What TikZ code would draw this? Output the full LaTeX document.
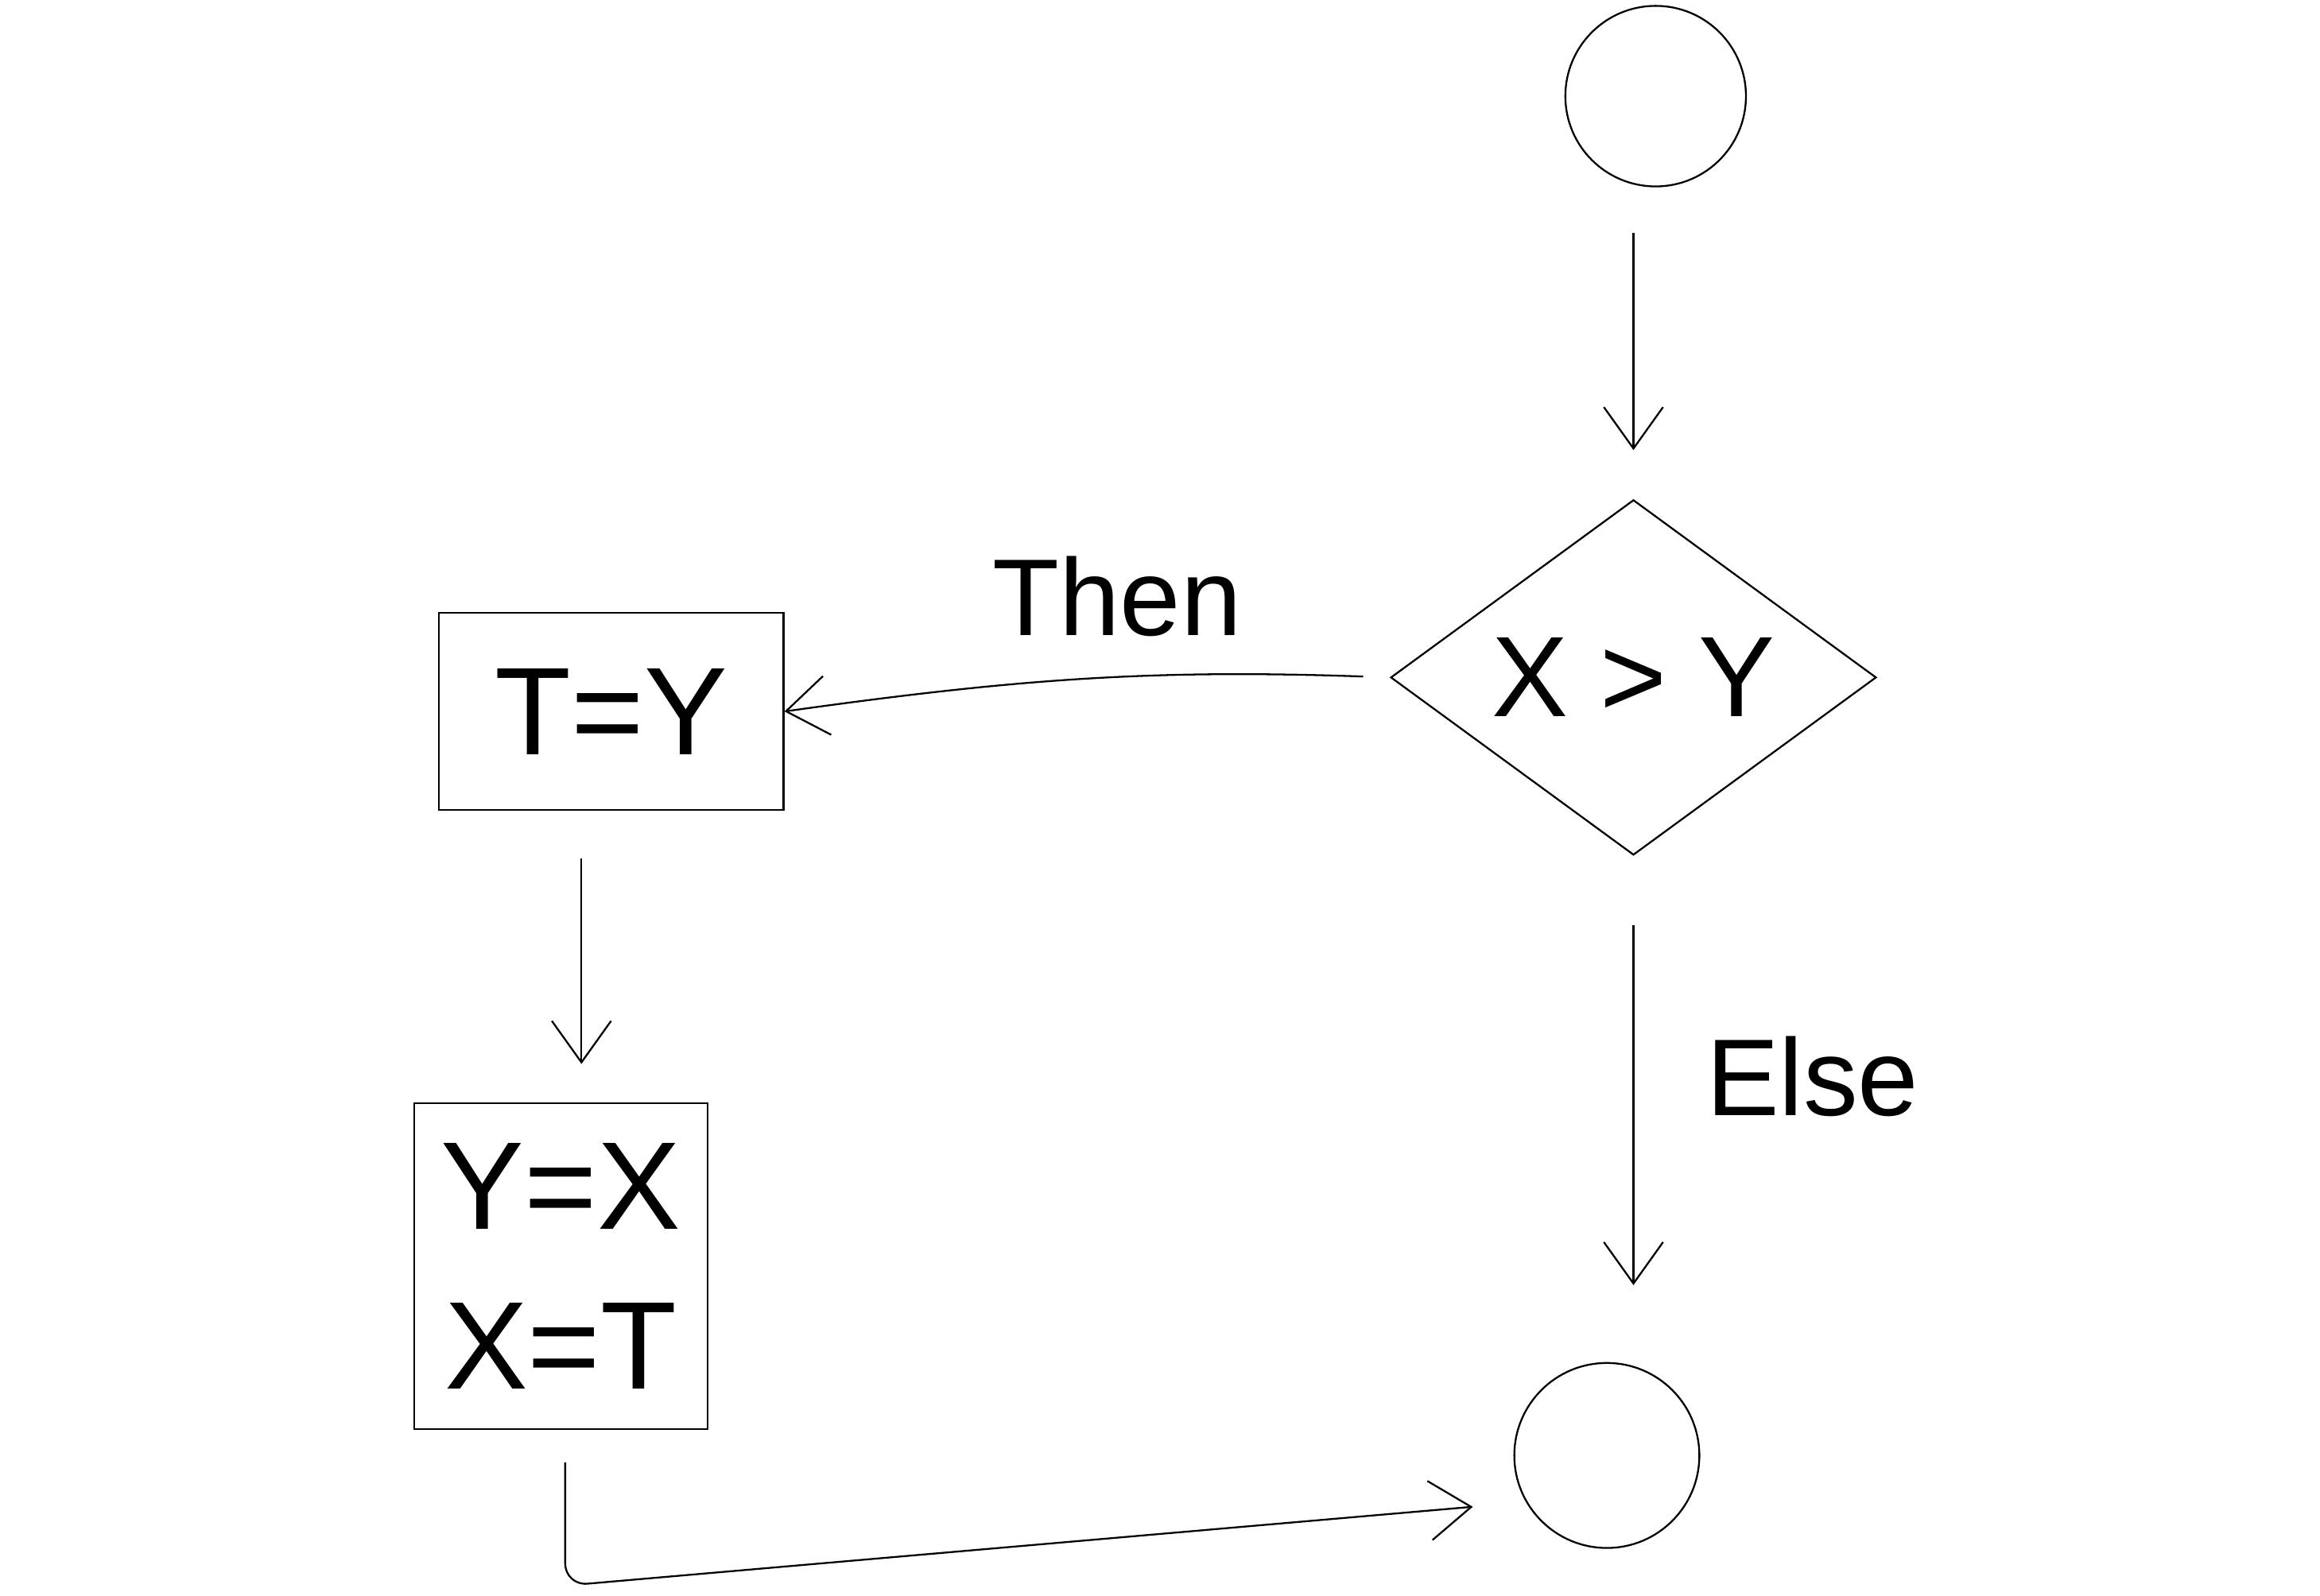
\documentclass[tikz,border=0pt]{standalone}
\usepackage{fontspec}
\setmainfont{Liberation Sans}
\usetikzlibrary{shapes.geometric,arrows.meta}
\begin{document}
\begin{tikzpicture}[x=0.01cm,y=-0.01cm, line width=0.35pt,
  arr/.style={-{Straight Barb[length=0.28cm,width=0.4cm]}},
  bigtext/.style={font=\fontsize{24}{30.7}\selectfont},
  lbltext/.style={font=\fontsize{21}{25}\selectfont},
  terminal/.style={circle, draw, inner sep=0pt},
  box/.style={rectangle, draw, inner sep=0pt, bigtext}]
\useasboundingbox (0,0) rectangle (1568,1079);

% nodes
\node[terminal, minimum size=1.22cm] (start) at (1119,65) {};
\node[diamond, draw, aspect=1.37, minimum width=3.28cm, minimum height=2.4cm, inner sep=0pt, font=\fontsize{22}{26}\selectfont] (decision) at (1104,458) {X > Y};
\node[box, minimum width=2.33cm, minimum height=1.33cm] (thenbox) at (413,481) {T=Y};
\node[box, minimum width=1.98cm, minimum height=2.2cm, align=center] (assignbox) at (379,856) {Y=X\\X=T};
\node[terminal, minimum size=1.25cm] (end) at (1086,984) {};

% labels
\node[lbltext] (thenlabel) at (755,403) {Then};
\node[lbltext] (elselabel) at (1225,728) {Else};

% connectors
\draw[arr, shorten <=0.31cm, shorten >=0.33cm] (decision.north |- start.south) -- (decision.north);
\draw[arr, shorten <=0.18cm] (decision.west) to[out=178, in=8] (thenbox.east);
\draw[arr, shorten <=0.32cm, shorten >=0.26cm] ([xshift=-0.2cm]thenbox.south) -- ([xshift=-0.2cm]thenbox.south |- assignbox.north);
\draw[arr, shorten <=0.47cm, shorten >=0.52cm] (decision.south) -- (decision.south |- end.north);
\coordinate (corner) at (382,1072);
\draw[arr, rounded corners=0.15cm, shorten <=0.22cm, shorten >=0.36cm] (assignbox.south -| corner) -- (corner) -- (end.210);
\end{tikzpicture}
\end{document}
